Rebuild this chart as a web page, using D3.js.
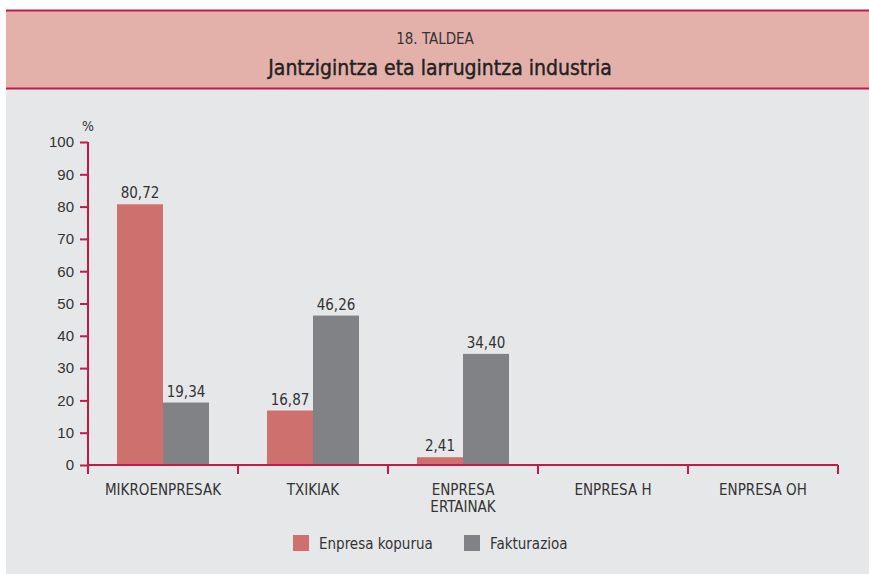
<!DOCTYPE html>
<html>
<head>
<meta charset="utf-8">
<script src="https://cdn.jsdelivr.net/npm/d3@7"></script>
<style>
  body { margin: 0; background: #fff; }
  svg { display: block; font-family: "Liberation Sans Narrow", "DejaVu Sans Condensed", "Open Sans", sans-serif; }
</style>
</head>
<body>
<script>
var width = 869
var height = 574
var margin = { top: 142, bottom: 109, left: 88, right: 31 }

var categories = ['MIKROENPRESAK', 'TXIKIAK', 'ENPRESA|ERTAINAK', 'ENPRESA H', 'ENPRESA OH']
var seriesNames = ['Enpresa kopurua', 'Fakturazioa']
var enpresaKopurua = [80.72, 16.87, 2.41, null, null]
var fakturazioa = [19.34, 46.26, 34.40, null, null]
var yTicks = [0, 10, 20, 30, 40, 50, 60, 70, 80, 90, 100]
var colors = ['#ce706e', '#818286']
var axisColor = '#c41a4a'

var svg = d3.select('body').append('svg')
    .attr('width', width)
    .attr('height', height)

// panel + header band
svg.append('rect').attr('x', 6).attr('y', 10).attr('width', width - 6).attr('height', height - 10).attr('fill', '#e6e7e9')
svg.append('rect').attr('x', 6).attr('y', 10).attr('width', width - 6).attr('height', 79).attr('fill', '#e4b1aa')
svg.append('line').attr('x1', 6).attr('x2', width).attr('y1', 10.5).attr('y2', 10.5).attr('stroke', axisColor).attr('stroke-width', 2)
svg.append('line').attr('x1', 6).attr('x2', width).attr('y1', 88.5).attr('y2', 88.5).attr('stroke', axisColor).attr('stroke-width', 2)

svg.append('text').attr('x', 435).attr('y', 44).attr('text-anchor', 'middle')
   .attr('font-size', 15).attr('fill', '#333').text('18. TALDEA')
svg.append('text').attr('x', 440).attr('y', 75).attr('text-anchor', 'middle')
   .attr('font-size', 21).attr('fill', '#222')
   .attr('stroke', '#222').attr('stroke-width', 0.4)
   .text('Jantzigintza eta larrugintza industria')

var xScale = d3.scaleBand()
    .domain(categories)
    .range([margin.left, width - margin.right])

var yScale = d3.scaleLinear()
    .domain([0, 100])
    .range([height - margin.bottom, margin.top])

var groupWidth = 92
var xSub = d3.scaleBand().domain(seriesNames).range([0, groupWidth])

var data = []
categories.forEach((c, i) => {
  data.push({ cat: c, series: seriesNames[0], value: enpresaKopurua[i] })
  data.push({ cat: c, series: seriesNames[1], value: fakturazioa[i] })
})
data = data.filter(d => d.value != null)

var fmt = v => v.toFixed(2).replace('.', ',')

svg.selectAll('rect.bar').data(data).enter().append('rect')
   .attr('class', 'bar')
   .attr('x', d => xScale(d.cat) + (xScale.bandwidth() - groupWidth) / 2 + xSub(d.series))
   .attr('width', xSub.bandwidth())
   .attr('y', d => yScale(d.value))
   .attr('height', d => yScale(0) - yScale(d.value))
   .attr('fill', d => colors[seriesNames.indexOf(d.series)])

svg.selectAll('text.val').data(data).enter().append('text')
   .attr('class', 'val')
   .attr('x', d => xScale(d.cat) + (xScale.bandwidth() - groupWidth) / 2 + xSub(d.series) + xSub.bandwidth() / 2)
   .attr('y', d => yScale(d.value) - 6)
   .attr('text-anchor', 'middle')
   .attr('font-size', 15).attr('fill', '#333')
   .text(d => fmt(d.value))

// y axis
var yAxis = d3.axisLeft(yScale).tickValues(yTicks).tickSize(8).tickPadding(6)
var gy = svg.append('g')
   .attr('transform', 'translate(' + [margin.left, 0] + ')')
   .call(yAxis)
gy.select('.domain').attr('stroke', axisColor).attr('stroke-width', 2).attr('d', 'M0,' + yScale(100) + 'V' + yScale(0))
gy.selectAll('.tick line').attr('stroke', axisColor).attr('stroke-width', 2)
gy.selectAll('.tick text').attr('font-size', 15).attr('fill', '#333').attr('font-family', null)

svg.append('text').attr('x', 88).attr('y', 131).attr('text-anchor', 'middle')
   .attr('font-size', 14).attr('fill', '#333').text('%')

// x axis with ticks at category boundaries
var gx = svg.append('g').attr('transform', 'translate(0,' + yScale(0) + ')')
gx.append('line').attr('x1', margin.left).attr('x2', width - margin.right)
  .attr('stroke', axisColor).attr('stroke-width', 2)
var bounds = categories.map(c => xScale(c)).concat([width - margin.right])
gx.selectAll('line.tk').data(bounds).enter().append('line')
  .attr('class', 'tk').attr('x1', d => d).attr('x2', d => d).attr('y1', 0).attr('y2', 9)
  .attr('stroke', axisColor).attr('stroke-width', 2)

var labels = gx.selectAll('text.cat').data(categories).enter().append('text')
  .attr('class', 'cat')
  .attr('x', d => xScale(d) + xScale.bandwidth() / 2)
  .attr('y', 30)
  .attr('text-anchor', 'middle').attr('font-size', 15).attr('fill', '#333')
labels.each(function(d) {
  var parts = d.split('|')
  var t = d3.select(this)
  parts.forEach((p, i) => {
    t.append('tspan').attr('x', xScale(d) + xScale.bandwidth() / 2).attr('dy', i === 0 ? 0 : 17).text(p)
  })
})

// legend
var legendX = [293, 464]
seriesNames.forEach((s, i) => {
  svg.append('rect').attr('x', legendX[i]).attr('y', 535).attr('width', 16).attr('height', 16).attr('fill', colors[i])
  svg.append('text').attr('x', legendX[i] + 26).attr('y', 549).attr('font-size', 15).attr('fill', '#333').text(s)
})
</script>
</body>
</html>
